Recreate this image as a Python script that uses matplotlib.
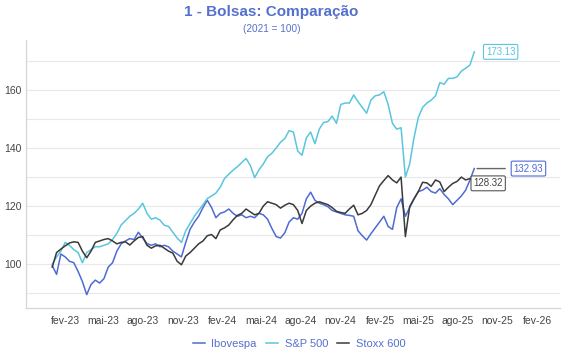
import matplotlib
matplotlib.use('Agg')
import matplotlib.pyplot as plt
import pandas as pd

plt.rcParams['font.family'] = ['Liberation Sans', 'DejaVu Sans']

# one reading every 10 days, Jan 2023 -> Sep 2025 (index 2021 = 100)
dates = pd.date_range('2023-01-02', periods=99, freq='10D')

ibovespa = [
    99.5, 96.5, 103.5, 102.5, 101.0, 100.5, 97.5, 94.0, 89.5, 93.0,
    94.5, 93.5, 95.0, 99.0, 100.5, 104.5, 107.0, 108.0, 108.8, 108.5,
    111.0, 109.0, 107.1, 106.5, 107.0, 106.0, 106.5, 106.0, 104.5, 103.5,
    102.5, 107.5, 112.0, 114.5, 116.5, 119.5, 122.0, 119.5, 116.0, 117.5,
    118.0, 119.0, 117.5, 116.5, 117.0, 116.0, 116.5, 116.0, 117.5, 117.0,
    115.5, 112.3, 109.5, 109.0, 110.8, 114.5, 116.0, 115.5, 117.5, 122.5,
    124.8, 122.0, 121.0, 120.5, 119.8, 118.5, 118.0, 117.5, 117.0, 116.8,
    116.5, 111.5, 109.8, 108.3, 110.5, 112.5, 114.5, 116.5, 113.0, 112.0,
    119.5, 122.5, 116.5, 119.5, 122.5, 125.0, 125.5, 126.5, 125.0, 124.5,
    126.0, 124.0, 122.5, 120.5, 122.0, 123.5, 125.5, 129.0, 132.93,
]

sp500 = [
    100.0, 102.5, 104.5, 107.5, 106.5, 105.0, 104.0, 100.5, 104.0, 105.0,
    106.0, 106.0, 106.5, 107.0, 108.5, 110.6, 113.5, 115.0, 116.5, 117.5,
    119.0, 121.0, 117.5, 115.5, 116.0, 115.2, 113.4, 113.0, 111.0, 109.0,
    107.5, 111.5, 114.0, 116.5, 118.5, 120.5, 122.6, 123.5, 124.5, 126.5,
    129.5, 131.0, 132.4, 133.6, 135.0, 136.4, 134.0, 129.8, 132.5, 134.5,
    137.0, 138.2, 140.0, 142.0, 143.3, 146.0, 145.5, 139.0, 137.5, 143.5,
    145.5, 141.5, 146.5, 148.8, 149.1, 151.0, 148.5, 155.0, 155.5, 155.5,
    158.3, 156.0, 154.0, 152.0, 156.5, 158.0, 158.3, 159.4, 155.0, 148.5,
    146.5, 147.0, 130.0, 134.5, 143.5, 150.5, 154.0, 155.5, 156.5, 158.0,
    162.5, 162.0, 164.0, 164.0, 164.5, 166.5, 167.5, 168.6, 173.13,
]

stoxx600 = [
    99.0, 104.0, 105.2, 106.3, 107.3, 107.7, 107.5, 104.5, 102.2, 104.5,
    107.5, 108.0, 108.5, 108.8, 108.0, 107.0, 107.5, 107.7, 106.6, 108.0,
    109.2, 109.5, 106.5, 105.5, 106.3, 106.5, 105.5, 104.5, 103.8, 101.0,
    99.8, 102.8, 104.0, 105.5, 107.0, 108.0, 109.8, 110.2, 108.8, 111.8,
    112.5, 113.5, 115.3, 116.8, 117.5, 119.0, 118.0, 117.0, 117.5, 120.0,
    121.5, 121.0, 120.5, 119.3, 120.3, 121.0, 120.5, 118.5, 114.0, 118.5,
    120.0, 121.0, 121.5, 121.0, 120.5, 119.5, 118.2, 117.8, 117.5, 119.0,
    120.3, 117.0, 117.5, 118.5, 120.5, 123.8, 127.0, 128.8, 130.5, 129.0,
    128.0, 130.0, 109.5, 119.8, 122.5, 125.0, 128.2, 128.0, 126.8, 129.0,
    128.3, 125.0, 126.5, 127.8, 128.5, 130.0, 129.0, 129.5, 128.32,
]

series_names = ['Ibovespa', 'S&P 500', 'Stoxx 600']
colors = ['#4f6bd3', '#5ac6dd', '#3a3a3a']

tick_dates = pd.date_range('2023-02-01', '2026-02-01', freq='3MS')
meses = ['jan', 'fev', 'mar', 'abr', 'mai', 'jun',
         'jul', 'ago', 'set', 'out', 'nov', 'dez']
tick_labels = [f"{meses[d.month - 1]}-{d.strftime('%y')}" for d in tick_dates]

title_color = '#5470cf'
grid_color = '#e8e8e8'

fig = plt.figure(figsize=(5.7, 3.6), dpi=100)
ax = fig.add_axes([0.0456, 0.1444, 0.9368, 0.7444])

for name, vals, c in zip(series_names, [ibovespa, sp500, stoxx600], colors):
    ax.plot(dates, vals, color=c, lw=1.1, label=name)

ax.set_xlim(pd.Timestamp('2022-11-02'), pd.Timestamp('2026-03-26'))
ax.set_ylim(84.9, 177.2)

ax.set_xticks(tick_dates)
ax.set_xticklabels(tick_labels)
ax.set_yticks([100, 120, 140, 160])
ax.set_yticks(range(90, 180, 10), minor=True)
ax.grid(axis='y', which='both', color=grid_color, lw=0.8)
ax.set_axisbelow(True)
ax.tick_params(axis='both', which='both', length=0, labelsize=7.5,
               labelcolor='#444444')
ax.tick_params(axis='x', pad=6)
ax.tick_params(axis='y', pad=3)

for side in ['top', 'right']:
    ax.spines[side].set_visible(False)
for side in ['left', 'bottom']:
    ax.spines[side].set_color('#d6d6d6')
    ax.spines[side].set_linewidth(0.9)

# end-of-line value labels
last = dates[-1]
box = dict(boxstyle='round,pad=0.25,rounding_size=0.15', fc='white', lw=0.8)
ax.annotate(f'{sp500[-1]:.2f}', xy=(last, sp500[-1]), xytext=(19, 0),
            textcoords='offset points', ha='center', va='center',
            fontsize=7, color=colors[1], bbox=dict(box, ec=colors[1]))
ax.annotate(f'{ibovespa[-1]:.2f}', xy=(last, ibovespa[-1]), xytext=(39, 0),
            textcoords='offset points', ha='center', va='center',
            fontsize=7, color=colors[0], bbox=dict(box, ec=colors[0]),
            arrowprops=dict(arrowstyle='-', color='#666666', lw=1.0,
                            shrinkA=4, shrinkB=2))
ax.annotate(f'{stoxx600[-1]:.2f}', xy=(last, stoxx600[-1]), xytext=(10, -1),
            textcoords='offset points', ha='center', va='center',
            fontsize=7, color='#444444', bbox=dict(box, ec='#555555'))

fig.text(271.5 / 570, 1 - 12 / 360, '1 - Bolsas: Comparação', ha='center',
         va='center', fontsize=11, fontweight='bold', color=title_color)
fig.text(271.5 / 570, 1 - 29 / 360, '(2021 = 100)', ha='center', va='center',
         fontsize=7.2, color=title_color)

leg = fig.legend(loc='center', bbox_to_anchor=(299 / 570, 16 / 360), ncol=3,
                 frameon=False, fontsize=8, handlelength=1.1,
                 handletextpad=0.6, columnspacing=0.8)
for t in leg.get_texts():
    t.set_color(title_color)

fig.savefig('out.png', dpi=100)
